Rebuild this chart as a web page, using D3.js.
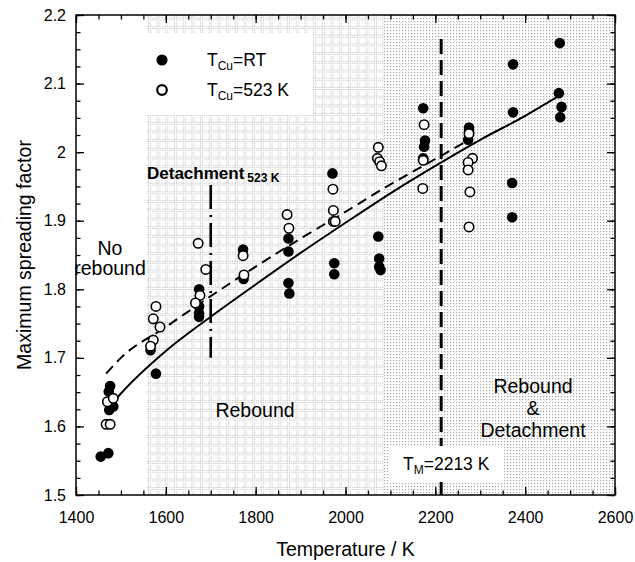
<!DOCTYPE html>
<html><head><meta charset="utf-8">
<script src="https://cdn.jsdelivr.net/npm/d3@7/dist/d3.min.js"></script>
<style>body{margin:0;background:#fff} text{font-family:"Liberation Sans",Arial,Helvetica,sans-serif;fill:#000}</style>
</head><body><svg id="c" width="635" height="562"></svg>
<script>
// ---- data ----
const xTicks = [1400, 1600, 1800, 2000, 2200, 2400, 2600];
const xTickLabels = ["1400", "1600", "1800", "2000", "2200", "2400", "2600"];
const yTicks = [1.5, 1.6, 1.7, 1.8, 1.9, 2.0, 2.1, 2.2];
const yTickLabels = ["1.5", "1.6", "1.7", "1.8", "1.9", "2", "2.1", "2.2"];

// T_Cu = RT (filled)
const rtT = [1455,1472,1476,1473,1483,1474, 1566,1578, 1674,1674,1674,1674, 1772,1773,
             1873,1873,1873,1875, 1971,1975,1975, 2073,2075,2075,2078,
             2173,2177,2175,2173, 2275,2275,2273, 2371,2371,2373,2373, 2477,2475,2481,2478];
const rtV = [1.556,1.561,1.659,1.651,1.629,1.624, 1.711,1.677, 1.800,1.775,1.765,1.760, 1.858,1.815,
             1.874,1.855,1.809,1.794, 1.969,1.838,1.822, 1.877,1.845,1.833,1.828,
             2.064,2.017,2.008,1.991, 2.036,2.031,2.018, 1.955,1.905,2.128,2.058, 2.159,2.086,2.066,2.051];
// T_Cu = 523 K (open)
const hotT = [1467,1476,1470,1483, 1578,1572,1587,1572,1566, 1672,1689,1676,1666, 1772,1774,
              1870,1874, 1972,1973,1973,1977, 2073,2071,2076,2080, 2175,2173,2172,
              2275,2283,2273,2273,2277,2275];
const hotV = [1.603,1.603,1.636,1.641, 1.775,1.757,1.745,1.726,1.717, 1.867,1.829,1.791,1.780, 1.849,1.821,
              1.909,1.889, 1.946,1.915,1.899,1.899, 2.007,1.991,1.986,1.980, 2.040,1.988,1.947,
              2.027,1.991,1.985,1.974,1.942,1.891];
// fitted curves
const fitRT_T = [1470,1500,1600,1700,1800,1900,2000,2100,2200,2300,2400,2475];
const fitRT_V = [1.625,1.648,1.710,1.760,1.807,1.853,1.897,1.940,1.980,2.018,2.053,2.082];
const fitHot_T = [1467,1500,1600,1700,1800,1900,2000,2100,2200,2275];
const fitHot_V = [1.677,1.700,1.745,1.790,1.833,1.874,1.913,1.953,1.990,2.018];
// regions / markers
const gridRegion = [1558, 2085];
const dotRegion = [2085, 2600];
const detachT = 1700, detachV = [1.70, 1.952];
const meltT = 2213, meltV = [1.5, 2.165];

// ---- layout ----
const L = 76, R = 615, T = 15, B = 495;
const svg = d3.select("#c");
const x = d3.scaleLinear().domain([1400, 2600]).range([L, R]);
const y = d3.scaleLinear().domain([1.5, 2.2]).range([B, T]);

const defs = svg.append("defs");
const gs = 8.7;
const pg = defs.append("pattern").attr("id", "grid").attr("patternUnits", "userSpaceOnUse")
  .attr("width", gs).attr("height", gs);
pg.append("rect").attr("width", gs).attr("height", gs).attr("fill", "#fff");
pg.append("path").attr("d", `M0,0.5H${gs}M0,2.5H${gs}M0.5,0V${gs}M2.5,0V${gs}`)
  .attr("stroke", "#c4c4c4").attr("stroke-width", 1).attr("stroke-dasharray", "1,1");
const pd = defs.append("pattern").attr("id", "dots").attr("patternUnits", "userSpaceOnUse")
  .attr("width", 3).attr("height", 3);
pd.append("rect").attr("width", 3).attr("height", 3).attr("fill", "#fff");
pd.append("rect").attr("width", 1.2).attr("height", 1.2).attr("fill", "#a8a8a8");

// regions
svg.append("rect").attr("x", x(gridRegion[0])).attr("y", T).attr("width", x(gridRegion[1]) - x(gridRegion[0]))
  .attr("height", B - T).attr("fill", "url(#grid)");
svg.append("rect").attr("x", x(dotRegion[0])).attr("y", T).attr("width", x(dotRegion[1]) - x(dotRegion[0]))
  .attr("height", B - T).attr("fill", "url(#dots)");

// legend box
svg.append("rect").attr("x", L + 1).attr("y", 33).attr("width", 313 - L - 1).attr("height", 82).attr("fill", "#fff");

// melting line
svg.append("line").attr("x1", x(meltT)).attr("x2", x(meltT)).attr("y1", y(meltV[1])).attr("y2", y(meltV[0]))
  .attr("stroke", "#000").attr("stroke-width", 3).attr("stroke-dasharray", "15,6");
// TM box
svg.append("rect").attr("x", 389).attr("y", 446).attr("width", 114).attr("height", 36).attr("fill", "#fff");

// detachment dash-dot line
svg.append("line").attr("x1", x(detachT)).attr("x2", x(detachT)).attr("y1", y(detachV[1])).attr("y2", y(detachV[0]))
  .attr("stroke", "#000").attr("stroke-width", 2.6).attr("stroke-dasharray", "24,6,2,6");

// fit curves
const line = d3.line().x(d => x(d[0])).y(d => y(d[1])).curve(d3.curveMonotoneX);
svg.append("path").attr("d", line(fitHot_T.map((t, i) => [t, fitHot_V[i]])))
  .attr("fill", "none").attr("stroke", "#000").attr("stroke-width", 2).attr("stroke-dasharray", "10,6");
svg.append("path").attr("d", line(fitRT_T.map((t, i) => [t, fitRT_V[i]])))
  .attr("fill", "none").attr("stroke", "#000").attr("stroke-width", 2);

// points
svg.append("g").selectAll("circle").data(rtT.map((t, i) => [t, rtV[i]])).join("circle")
  .attr("cx", d => x(d[0])).attr("cy", d => y(d[1])).attr("r", 5.3).attr("fill", "#000");
svg.append("g").selectAll("circle").data(hotT.map((t, i) => [t, hotV[i]])).join("circle")
  .attr("cx", d => x(d[0])).attr("cy", d => y(d[1])).attr("r", 4.7).attr("fill", "#fff")
  .attr("stroke", "#000").attr("stroke-width", 1.6);

// axes
const xMinor = d3.range(1400, 2601, 50);
const yMinor = d3.range(0, 29).map(i => 1.5 + i * 0.025);
function ax(gen, tr, vals, size, fmt) {
  const g = svg.append("g").attr("transform", tr)
    .call(gen.tickValues(vals).tickSize(size).tickSizeOuter(0).tickFormat(fmt || (() => "")));
  g.select(".domain").remove();
  g.selectAll(".tick line").attr("stroke", "#000").attr("stroke-width", 1.3);
  return g;
}
ax(d3.axisBottom(x), `translate(0,${B})`, xMinor, -4.5);
ax(d3.axisTop(x), `translate(0,${T})`, xMinor, -4.5);
ax(d3.axisTop(x), `translate(0,${T})`, xTicks, -8);
ax(d3.axisLeft(y), `translate(${L},0)`, yMinor, -4.5);
ax(d3.axisRight(y), `translate(${R},0)`, yMinor, -4.5);
ax(d3.axisRight(y), `translate(${R},0)`, yTicks, -8);
const gx = ax(d3.axisBottom(x), `translate(0,${B})`, xTicks, -8, (d, i) => xTickLabels[i]);
gx.selectAll(".tick text").attr("dy", null).attr("y", 28).style("font-size", "16px")
  .style("font-family", '"Liberation Sans",Arial,sans-serif').attr("fill", "#000");
const gy = ax(d3.axisLeft(y), `translate(${L},0)`, yTicks, -8, (d, i) => yTickLabels[i]);
gy.selectAll(".tick text").attr("x", -10).style("font-size", "16px")
  .style("font-family", '"Liberation Sans",Arial,sans-serif').attr("fill", "#000");

// frame
svg.append("rect").attr("x", L).attr("y", T).attr("width", R - L).attr("height", B - T)
  .attr("fill", "none").attr("stroke", "#000").attr("stroke-width", 1.5);

// axis titles
svg.append("text").attr("x", (L + R) / 2).attr("y", 556).attr("text-anchor", "middle")
  .style("font-size", "19.5px").text("Temperature / K");
svg.append("text").attr("transform", `translate(31,${(T + B) / 2}) rotate(-90)`).attr("text-anchor", "middle")
  .style("font-size", "19.5px").text("Maximum spreading factor");

// legend
svg.append("circle").attr("cx", 162).attr("cy", 60).attr("r", 5.6).attr("fill", "#000");
svg.append("circle").attr("cx", 162).attr("cy", 90).attr("r", 4.8).attr("fill", "#fff").attr("stroke", "#000").attr("stroke-width", 2.2);
function sub(xp, yp, main, s, rest, fs, sfs) {
  const t = svg.append("text").attr("x", xp).attr("y", yp).style("font-size", fs + "px");
  t.append("tspan").text(main);
  t.append("tspan").attr("dy", 4).style("font-size", sfs + "px").text(s);
  t.append("tspan").attr("dy", -4).text(rest);
  return t;
}
sub(207, 66, "T", "Cu", "=RT", 17.5, 12);
sub(207, 96, "T", "Cu", "=523 K", 17.5, 12);
sub(403, 470, "T", "M", "=2213 K", 17.5, 12);

// annotations
svg.append("text").attr("x", 110).attr("y", 255).attr("text-anchor", "middle").style("font-size", "19.5px").text("No");
svg.append("text").attr("x", 110).attr("y", 275).attr("text-anchor", "middle").style("font-size", "19.5px").text("rebound");
svg.append("text").attr("x", 255).attr("y", 417).attr("text-anchor", "middle").style("font-size", "19.5px").text("Rebound");
svg.append("text").attr("x", 533).attr("y", 393).attr("text-anchor", "middle").style("font-size", "19.5px").text("Rebound");
svg.append("text").attr("x", 533).attr("y", 415).attr("text-anchor", "middle").style("font-size", "19.5px").text("&");
svg.append("text").attr("x", 533).attr("y", 437).attr("text-anchor", "middle").style("font-size", "19.5px").text("Detachment");
const dt = svg.append("text").attr("x", 147).attr("y", 179).style("font-size", "17px").style("font-weight", "bold");
dt.append("tspan").text("Detachment");
dt.append("tspan").attr("dx", 3).attr("dy", 3).style("font-size", "12px").text("523 K");
</script></body></html>
